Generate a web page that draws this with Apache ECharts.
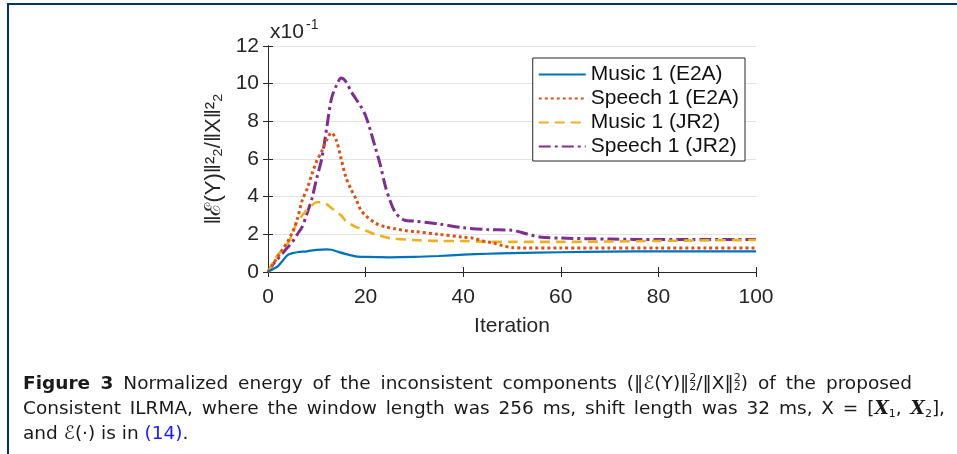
<!DOCTYPE html>
<html>
<head>
<meta charset="utf-8">
<script src="https://cdn.jsdelivr.net/npm/echarts@6/dist/echarts.min.js"></script>
<style>
html,body{margin:0;padding:0;background:#fff;}
#chart{position:absolute;left:0;top:0;width:957px;height:454px;}
.cl{position:absolute;left:23px;height:25px;font-family:"DejaVu Sans","Liberation Sans",sans-serif;font-size:18.5px;line-height:25px;color:#1a1a1a;white-space:nowrap;}
.j{text-align:justify;text-align-last:justify;}
.ss{display:inline-block;vertical-align:middle;line-height:9px;font-size:11px;text-align:left;margin-top:-4px;}
.bi{font-family:"DejaVu Serif","Liberation Serif",serif;font-weight:bold;font-style:italic;}
.sb{font-size:11px;vertical-align:-3px;}
</style>
</head>
<body>
<div id="chart"></div>
<div class="cl j" style="top:370px;width:889px;"><b>Figure 3</b> Normalized energy of the inconsistent components (‖ℰ(Y)‖<span class="ss">2<br>2</span>/‖X‖<span class="ss">2<br>2</span>) of the proposed</div>
<div class="cl j" style="top:395px;width:922px;">Consistent ILRMA, where the window length was 256 ms, shift length was 32 ms, X = [<span class="bi">X</span><span class="sb">1</span>, <span class="bi">X</span><span class="sb">2</span>],</div>
<div class="cl" style="top:420px;">and ℰ(·) is in <span style="color:#1a1aff">(14)</span>.</div>
<script>
// ---- data (values in units of 1e-1) ----
var seriesNames = ['Music 1 (E2A)', 'Speech 1 (E2A)', 'Music 1 (JR2)', 'Speech 1 (JR2)'];
var xTickValues = [0, 20, 40, 60, 80, 100];
var yTickValues = [0, 2, 4, 6, 8, 10, 12];

var musicE2A_x = [0,1,2,3,4,5,6,8,10,12,13,14,16,18,20,25,30,35,40,45,50,60,70,80,90,100];
var musicE2A_y = [0,0.15,0.3,0.6,0.9,1.0,1.05,1.1,1.17,1.2,1.18,1.1,0.95,0.83,0.8,0.78,0.8,0.85,0.92,0.97,1.0,1.05,1.08,1.1,1.1,1.1];

var speechE2A_x = [0,1,2,3,4,5,6,7,8,9,10,11,12,13,14,15,16,17,18,19,20,22,24,26,28,30,35,40,42,44,46,48,50,52,60,70,80,90,100];
var speechE2A_y = [0,0.4,0.8,1.2,1.6,2.1,2.8,3.8,4.4,5.2,5.9,6.4,7.0,7.4,7.0,6.0,5.0,4.4,3.9,3.3,3.0,2.6,2.4,2.3,2.2,2.15,2.0,1.85,1.8,1.65,1.55,1.4,1.3,1.28,1.28,1.28,1.28,1.28,1.28];

var musicJR2_x = [0,1,2,3,4,5,6,7,8,9,10,11,12,13,14,15,16,18,20,22,25,30,35,40,45,50,60,70,80,90,100];
var musicJR2_y = [0,0.5,0.9,1.2,1.5,2.0,2.7,3.0,3.3,3.55,3.7,3.7,3.6,3.4,3.2,3.0,2.7,2.4,2.2,2.0,1.8,1.7,1.65,1.65,1.6,1.6,1.6,1.62,1.65,1.68,1.7];

var speechJR2_x = [0,1,2,3,4,5,6,7,8,9,10,11,12,13,14,15,16,17,18,19,20,21,22,23,24,25,26,27,28,30,35,40,45,50,52,54,56,60,70,80,90,100];
var speechJR2_y = [0,0.4,0.7,1.0,1.3,1.6,2.0,2.4,3.1,3.9,5.0,6.0,7.6,9.2,9.9,10.3,10.1,9.6,9.2,8.8,8.3,7.5,6.6,5.7,4.6,3.8,3.2,2.9,2.75,2.7,2.55,2.35,2.25,2.22,2.1,1.95,1.85,1.8,1.75,1.72,1.72,1.72];

function pairs(xs, ys){ return xs.map(function(x,i){ return [x, ys[i]]; }); }

var colors = ['#0072BD', '#D95319', '#EDB120', '#7E2F8E'];
var dashes = ['solid', [3, 3], [10, 6], [12, 4, 3, 4]];
var widths = [2.2, 3, 2.6, 3];
var datasets = [pairs(musicE2A_x, musicE2A_y), pairs(speechE2A_x, speechE2A_y), pairs(musicJR2_x, musicJR2_y), pairs(speechJR2_x, speechJR2_y)];

var chart = echarts.init(document.getElementById('chart'), null, {renderer: 'canvas'});
var axisColor = '#262626';
var font = '"Liberation Sans", Arial, sans-serif';

var option = {
  animation: false,
  backgroundColor: '#fff',
  textStyle: {fontFamily: font},
  grid: {left: 268, right: 201, top: 46, bottom: 182, containLabel: false},
  xAxis: [{
    type: 'value', min: 0, max: 100, interval: 20,
    name: 'Iteration', nameLocation: 'middle', nameGap: 44,
    nameTextStyle: {fontSize: 21, color: axisColor, fontFamily: font},
    axisLine: {show: true, lineStyle: {color: axisColor, width: 1}},
    axisTick: {show: true, inside: true, length: 5, lineStyle: {color: axisColor}},
    axisLabel: {fontSize: 21, color: axisColor, margin: 15, fontFamily: font},
    splitLine: {show: false}
  }, {
    type: 'value', min: 0, max: 100, interval: 20, position: 'top',
    axisLine: {show: true, lineStyle: {color: axisColor, width: 1}},
    axisTick: {show: true, inside: true, length: 5, lineStyle: {color: axisColor}},
    axisLabel: {show: false}, splitLine: {show: false}
  }],
  yAxis: [{
    type: 'value', min: 0, max: 12, interval: 2,
    name: '‖ℰ(Y)‖²₂/‖X‖²₂', nameLocation: 'middle', nameGap: 42, nameRotate: 90,
    nameTextStyle: {fontSize: 22, color: axisColor, fontFamily: font},
    axisLine: {show: true, lineStyle: {color: axisColor, width: 1}},
    axisTick: {show: true, inside: true, length: 5, lineStyle: {color: axisColor}},
    axisLabel: {fontSize: 21, color: axisColor, margin: 9, fontFamily: font},
    splitLine: {show: true, lineStyle: {color: '#e3e3e3', width: 1}}
  }, {
    type: 'value', min: 0, max: 12, interval: 2, position: 'right',
    axisLine: {show: true, lineStyle: {color: axisColor, width: 1}},
    axisTick: {show: true, inside: true, length: 5, lineStyle: {color: axisColor}},
    axisLabel: {show: false}, splitLine: {show: false}
  }],
  legend: {
    right: 212, top: 58, orient: 'vertical',
    backgroundColor: '#fff', borderColor: axisColor, borderWidth: 1,
    padding: [6, 6, 4, 5], itemGap: 3, itemWidth: 47, itemHeight: 14,
    itemStyle: {opacity: 0},
    textStyle: {fontSize: 21, lineHeight: 21, color: '#111', fontFamily: font},
    data: seriesNames
  },
  series: seriesNames.map(function(n, i){
    return {
      name: n, type: 'line', data: datasets[i], smooth: 0.3,
      showSymbol: false, symbol: 'none',
      lineStyle: {color: colors[i], width: widths[i], type: dashes[i]},
      itemStyle: {color: colors[i]}, z: 10 - i
    };
  }),
  graphic: [
    {type: 'rect', shape: {x: 7, y: 3, width: 950, height: 2}, style: {fill: '#003366'}},
    {type: 'rect', shape: {x: 7, y: 3, width: 2, height: 451}, style: {fill: '#003366'}},
    {type: 'text', left: 270, top: 22, style: {text: 'x10', fontSize: 21, fill: axisColor, fontFamily: font}},
    {type: 'text', left: 306, top: 18, style: {text: '-1', fontSize: 14, fill: axisColor, fontFamily: font}}
  ]
};
chart.setOption(option);
</script>
</body>
</html>
